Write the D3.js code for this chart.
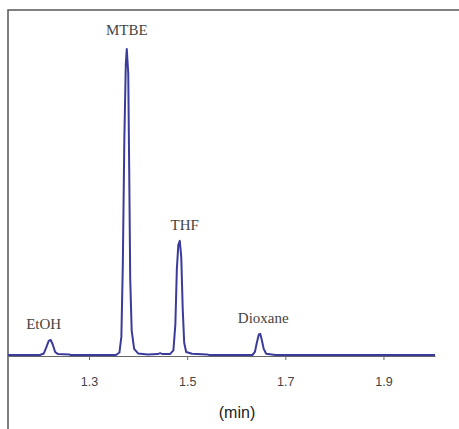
<!DOCTYPE html>
<html><head><meta charset="utf-8">
<script src="https://cdn.jsdelivr.net/npm/d3@7"></script>
<style>body{margin:0;background:#fff}</style>
</head><body>
<svg id="c" width="459" height="429"></svg>
<script>
// chromatogram trace (time in min, relative signal)
const times = [1.135,1.200,1.208,1.213,1.218,1.222,1.226,1.231,1.237,1.260,1.262,1.355,1.362,1.366,1.369,1.372,1.375,1.377,1.380,1.382,1.384,1.387,1.392,1.400,1.420,1.440,1.445,1.450,1.465,1.472,1.476,1.479,1.482,1.485,1.488,1.491,1.494,1.498,1.510,1.540,1.545,1.633,1.638,1.642,1.646,1.649,1.652,1.656,1.661,1.680,2.005]
const signal = [0,0,0.5,2.5,4.6,4.9,3.5,1.0,0.3,0.2,0,0,0.8,6,30,70,95,100,92,60,25,8,2,0.5,0.2,0.3,0.6,0.3,0.3,1.5,10,28,36,37.3,32,15,4,1,0.4,0.2,0,0,1,4,6.7,6.9,5,2,0.4,0,0]
const peakNames = ['EtOH','MTBE','THF','Dioxane']
const peakTimes = [1.220,1.377,1.485,1.655]
const peakHeights = [4.9,100,37.3,6.9]
const tickValues = [1.3,1.5,1.7,1.9]

const svg = d3.select('#c')
const x = d3.scaleLinear().domain([1.135,2.005]).range([8,435])
const y = d3.scaleLinear().domain([0,100]).range([355,49])

// frame (left + top)
svg.append('path').attr('d','M8,429V10H459').attr('fill','none').attr('stroke','#555').attr('stroke-width',1.5)

const ax = svg.append('g').attr('transform','translate(0,356)')
  .call(d3.axisBottom(x).tickValues(tickValues).tickSize(4).tickSizeOuter(0).tickPadding(17).tickFormat(d3.format('.1f')))
ax.select('.domain').attr('stroke','#666')
ax.selectAll('.tick line').attr('stroke','#666')
ax.selectAll('text').attr('fill','#444').style('font','12.5px "Liberation Sans", Arial, sans-serif')

svg.append('path')
  .datum(times.map((t,i)=>[t,signal[i]]))
  .attr('d', d3.line().x(d=>x(d[0])).y(d=>y(d[1])))
  .attr('fill','none').attr('stroke','#3b3b9c').attr('stroke-width',2).attr('stroke-linejoin','round')

svg.selectAll('.lbl').data(peakNames).enter().append('text')
  .attr('x',(d,i)=>x(peakTimes[i])+(i==0?-6:i==2?5:0))
  .attr('y',(d,i)=>y(peakHeights[i])-(i==1?14:11))
  .attr('text-anchor','middle').attr('fill','#444')
  .style('font','15px "Liberation Serif", "Times New Roman", serif')
  .text(d=>d)

svg.append('text').attr('x',237).attr('y',418).attr('text-anchor','middle')
  .attr('fill','#222').style('font','16px "Liberation Sans", Arial, sans-serif').text('(min)')
</script>
</body></html>
